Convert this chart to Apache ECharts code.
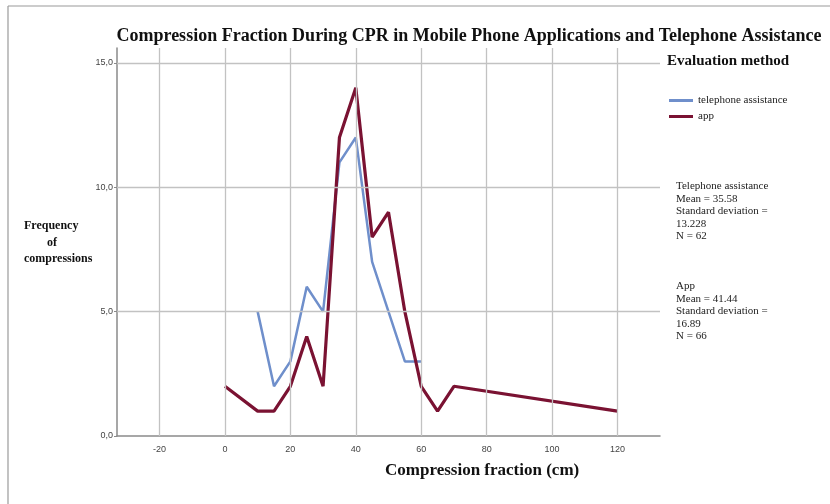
<!DOCTYPE html>
<html><head><meta charset="utf-8">
<script src="https://cdn.jsdelivr.net/npm/echarts@6/dist/echarts.min.js"></script>
<style>html,body{margin:0;padding:0;background:#fff}#c{width:830px;height:504px}</style>
</head><body><div id="c"></div>
<script>
const phoneX = [10, 15, 20, 25, 30, 35, 40, 45, 50, 55, 60];
const phoneY = [5, 2, 3, 6, 5, 11, 12, 7, 5, 3, 3];
const appX = [0, 10, 15, 20, 25, 30, 35, 40, 45, 50, 55, 60, 65, 70, 120];
const appY = [2, 1, 1, 2, 4, 2, 12, 14, 8, 9, 5, 2, 1, 2, 1];
const xGrid = [-20, 0, 20, 40, 60, 80, 100, 120];
const yGrid = [5, 10, 15];
const seriesNames = ['telephone assistance', 'app'];
const phoneStats = ['Telephone assistance', 'Mean = 35.58', 'Standard deviation =', '13.228', 'N = 62'];
const appStats = ['App', 'Mean = 41.44', 'Standard deviation =', '16.89', 'N = 66'];

const serif = '"Liberation Serif", "DejaVu Serif", serif';
const sans = '"Liberation Sans", Arial, sans-serif';
const chart = echarts.init(document.getElementById('c'));

const statText = [];
phoneStats.forEach((t, i) => statText.push({type:'text', left:676, top:181 + i*12.4, style:{text:t, font:'11px ' + serif, fill:'#222'}}));
appStats.forEach((t, i) => statText.push({type:'text', left:676, top:281 + i*12.4, style:{text:t, font:'11px ' + serif, fill:'#222'}}));

chart.setOption({
  animation: false,
  title: {
    text: 'Compression Fraction During CPR in Mobile Phone Applications and Telephone Assistance',
    left: 464, top: 22, textAlign: 'center',
    textStyle: {fontFamily: serif, fontWeight: 'bold', fontSize: 18, color: '#111'}
  },
  legend: {
    data: seriesNames, orient: 'vertical', left: 664, top: 90, itemGap: 5,
    itemWidth: 24, itemHeight: 3, icon: 'rect',
    textStyle: {fontFamily: serif, fontSize: 11, color: '#222'}
  },
  grid: {left: 117, right: 170, top: 48, bottom: 68, containLabel: false},
  xAxis: {
    type: 'value', min: -33, max: 133, minInterval: 20, maxInterval: 20,
    axisLine: {show: true, onZero: false, lineStyle: {color: '#8a8a8a', width: 1.5}},
    axisTick: {show: false}, splitLine: {show: false},
    axisLabel: {showMinLabel: false, showMaxLabel: false, fontFamily: sans, fontSize: 9, color: '#444', margin: 9}
  },
  yAxis: {
    type: 'value', min: 0, max: 15.6, minInterval: 5, maxInterval: 5,
    axisLine: {show: true, onZero: false, lineStyle: {color: '#8a8a8a', width: 1.5}},
    axisTick: {show: true, length: 3, lineStyle: {color: '#8a8a8a'}}, splitLine: {show: false},
    axisLabel: {showMaxLabel: false, fontFamily: sans, fontSize: 9, color: '#444', margin: 4,
      formatter: v => v.toFixed(1).replace('.', ',')}
  },
  graphic: [
    {type:'line', shape:{x1:8, y1:6, x2:830, y2:6}, style:{stroke:'#9a9a9a', lineWidth:1.2}},
    {type:'line', shape:{x1:8, y1:6, x2:8, y2:504}, style:{stroke:'#9a9a9a', lineWidth:1.2}},
    {type:'text', left:667, top:54, style:{text:'Evaluation method', font:'bold 15px ' + serif, fill:'#111'}},
    {type:'text', left:24, top:220, style:{text:'Frequency', font:'bold 12px ' + serif, fill:'#111'}},
    {type:'text', left:47, top:237, style:{text:'of', font:'bold 12px ' + serif, fill:'#111'}},
    {type:'text', left:24, top:253, style:{text:'compressions', font:'bold 12px ' + serif, fill:'#111'}},
    {type:'text', left:385, top:462, style:{text:'Compression fraction (cm)', font:'bold 17px ' + serif, fill:'#111', textAlign:'center'}}
  ].concat(statText),
  series: [
    {
      name: 'grid', type: 'line', data: [], silent: true,
      markLine: {
        silent: true, symbol: 'none', label: {show: false},
        lineStyle: {color: '#c2c2c2', type: 'solid', width: 1.3},
        data: xGrid.map(v => ({xAxis: v})).concat(yGrid.map(v => ({yAxis: v})))
      }
    },
    {
      name: seriesNames[0], type: 'line', symbol: 'none', color: '#6f8fcb',
      lineStyle: {width: 2.5, color: '#6f8fcb'},
      data: phoneX.map((x, i) => [x, phoneY[i]])
    },
    {
      name: seriesNames[1], type: 'line', symbol: 'none', color: '#7a1232',
      lineStyle: {width: 3.2, color: '#7a1232'},
      data: appX.map((x, i) => [x, appY[i]])
    }
  ]
});
</script></body></html>
